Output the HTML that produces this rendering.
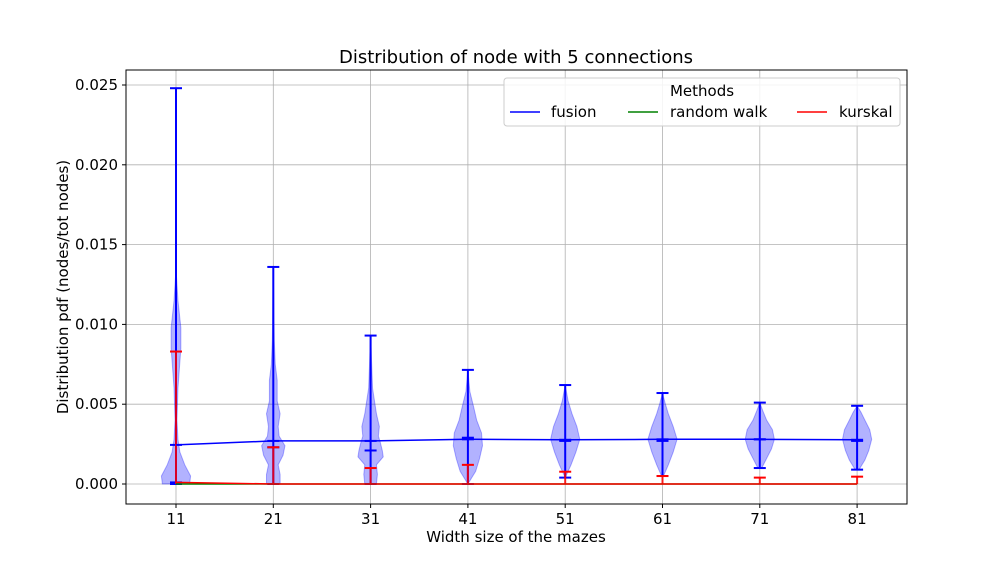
<!DOCTYPE html>
<html><head><meta charset="utf-8"><style>
body{margin:0;background:#fff;font-family:"DejaVu Sans","Liberation Sans",sans-serif}
svg text{font-family:"DejaVu Sans","Liberation Sans",sans-serif;fill:#000}
</style></head><body>
<svg id="c" width="1008" height="576">
<text x="516" y="63" font-size="18" text-anchor="middle">Distribution of node with 5 connections</text>
<text x="516" y="542" font-size="15" text-anchor="middle">Width size of the mazes</text>
<text transform="translate(68,287) rotate(-90)" font-size="15" text-anchor="middle">Distribution pdf (nodes/tot nodes)</text>
<g id="grid"></g><g id="marks"></g>
<rect x="126" y="70" width="781" height="434" fill="none" stroke="#000" stroke-width="1"/>
<g>
<rect x="504" y="78" width="396" height="48" fill="#fff" fill-opacity="0.85" stroke="#ccc" rx="3"/>
<text x="702" y="96" font-size="15" text-anchor="middle">Methods</text>
<line x1="510" y1="112" x2="540" y2="112" stroke="blue" stroke-width="1.5"/>
<text x="551" y="117" font-size="15">fusion</text>
<line x1="628" y1="112" x2="658" y2="112" stroke="green" stroke-width="1.5"/>
<text x="670" y="117" font-size="15">random walk</text>
<line x1="797" y1="112" x2="827" y2="112" stroke="red" stroke-width="1.5"/>
<text x="839" y="117" font-size="15">kurskal</text>
</g>
</svg>
<script>
const categories=["11","21","31","41","51","61","71","81"];
const yTicks=[0,0.005,0.01,0.015,0.02,0.025];
const yTickLabels=["0.000","0.005","0.010","0.015","0.020","0.025"];
const fusionMean=[0.00245,0.0027,0.0027,0.0028,0.00277,0.0028,0.0028,0.00277];
const fusionMax=[0.0248,0.0136,0.0093,0.00715,0.0062,0.0057,0.0051,0.0049];
const fusionMin=[0,0,0,0,0.0004,0.0005,0.001,0.0009];
const fusionMedian=[0.0001,0.0023,0.0021,0.0029,0.0027,0.0027,0.0028,0.0027];
const kurskalMax=[0.0083,0.0023,0.001,0.0012,0.00077,0.0005,0.0004,0.00046];
const kurskalMean=[0.0001,0,0,0,0,0,0,0];
const randomWalkMean=[0,0,0,0,0,0,0,0];
const violinVals=[
[0,0.0005,0.0012,0.002,0.0028,0.004,0.006,0.0085,0.0098,0.0115,0.013,0.0248],
[0,0.0006,0.0012,0.0018,0.0024,0.003,0.0036,0.0044,0.0052,0.0065,0.0075,0.009,0.0136],
[0,0.0006,0.0012,0.0017,0.0021,0.0026,0.003,0.0036,0.0044,0.006,0.0093],
[0,0.0008,0.0016,0.0024,0.0032,0.004,0.0048,0.0058,0.00715],
[0.0004,0.0012,0.002,0.0028,0.0036,0.0044,0.0052,0.0062],
[0.0005,0.0012,0.002,0.0028,0.0036,0.0044,0.005,0.0057],
[0.001,0.0016,0.0022,0.0028,0.0034,0.004,0.0046,0.0051],
[0.0009,0.0015,0.0021,0.0028,0.0034,0.004,0.0045,0.0049]];
const violinWidths=[
[0.14,0.15,0.09,0.04,0.02,0.01,0.02,0.05,0.05,0.02,0.005,0],
[0.07,0.07,0.05,0.1,0.12,0.06,0.05,0.07,0.04,0.04,0.02,0.01,0],
[0.06,0.07,0.06,0.13,0.12,0.1,0.08,0.09,0.06,0.02,0],
[0,0.08,0.12,0.15,0.14,0.09,0.06,0.02,0],
[0,0.06,0.11,0.15,0.12,0.07,0.03,0],
[0.01,0.06,0.11,0.15,0.11,0.06,0.03,0],
[0.02,0.07,0.12,0.15,0.13,0.07,0.03,0],
[0.02,0.08,0.12,0.15,0.13,0.08,0.04,0]];
const X=i=>176+i*97.3, Y=v=>484-v*15960, W=w=>w*97.3;
const NS="http://www.w3.org/2000/svg";
const svg=document.getElementById('c'),grid=document.getElementById('grid'),marks=document.getElementById('marks');
function mk(p,t,a){const e=document.createElementNS(NS,t);for(const k in a)e.setAttribute(k,a[k]);p.appendChild(e);return e;}
yTicks.forEach((v,i)=>{
 const g=mk(grid,'line',{x1:126,x2:907,y1:Y(v),y2:Y(v),stroke:'#b0b0b0','stroke-width':0.8});
 
 
 mk(grid,'line',{x1:122,x2:126,y1:Y(v),y2:Y(v),stroke:'#000'});
 const t=mk(grid,'text',{x:118,y:Y(v)+5,'font-size':15,'text-anchor':'end'});t.textContent=yTickLabels[i];
 
 
});
categories.forEach((c,i)=>{
 const g=mk(grid,'line',{x1:X(i),x2:X(i),y1:70,y2:504,stroke:'#b0b0b0','stroke-width':0.8});
 
 
 mk(grid,'line',{x1:X(i),x2:X(i),y1:504,y2:508,stroke:'#000'});
 const t=mk(grid,'text',{x:X(i),y:524,'font-size':15,'text-anchor':'middle'});t.textContent=c;
 
 
});
categories.forEach((c,i)=>{
 const vs=violinVals[i],ws=violinWidths[i];let r=[],l=[];
 vs.forEach((v,j)=>{r.push((X(i)+W(ws[j]))+','+Y(v));l.unshift((X(i)-W(ws[j]))+','+Y(v));});
 const p=mk(marks,'polygon',{points:r.concat(l).join(' '),fill:'#0000ff','fill-opacity':0.3,stroke:'#0000ff','stroke-opacity':0.3});
 
 
 const br=mk(marks,'line',{x1:X(i),x2:X(i),y1:Y(fusionMin[i]),y2:Y(fusionMax[i]),stroke:'blue','stroke-width':2});
 
 
 [fusionMax[i],fusionMin[i],fusionMedian[i],fusionMean[i]].forEach(v=>mk(marks,'line',{x1:X(i)-6,x2:X(i)+6,y1:Y(v),y2:Y(v),stroke:'blue','stroke-width':2}));
 const kr=mk(marks,'line',{x1:X(i),x2:X(i),y1:Y(0),y2:Y(kurskalMax[i]),stroke:'red','stroke-width':2,'stroke-opacity':0.85});
 
 
 mk(marks,'line',{x1:X(i)-6,x2:X(i)+6,y1:Y(kurskalMax[i]),y2:Y(kurskalMax[i]),stroke:'red','stroke-width':2});
});
function line(arr,col,name){const l=mk(marks,'polyline',{points:arr.map((v,i)=>X(i)+','+Y(v)).join(' '),fill:'none',stroke:col,'stroke-width':1.5});
 
 }
line(fusionMean,'blue','fusion-mean-line');
line(randomWalkMean,'green','random-walk-mean-line');
line(kurskalMean,'red','kurskal-mean-line');
</script>
</body></html>
